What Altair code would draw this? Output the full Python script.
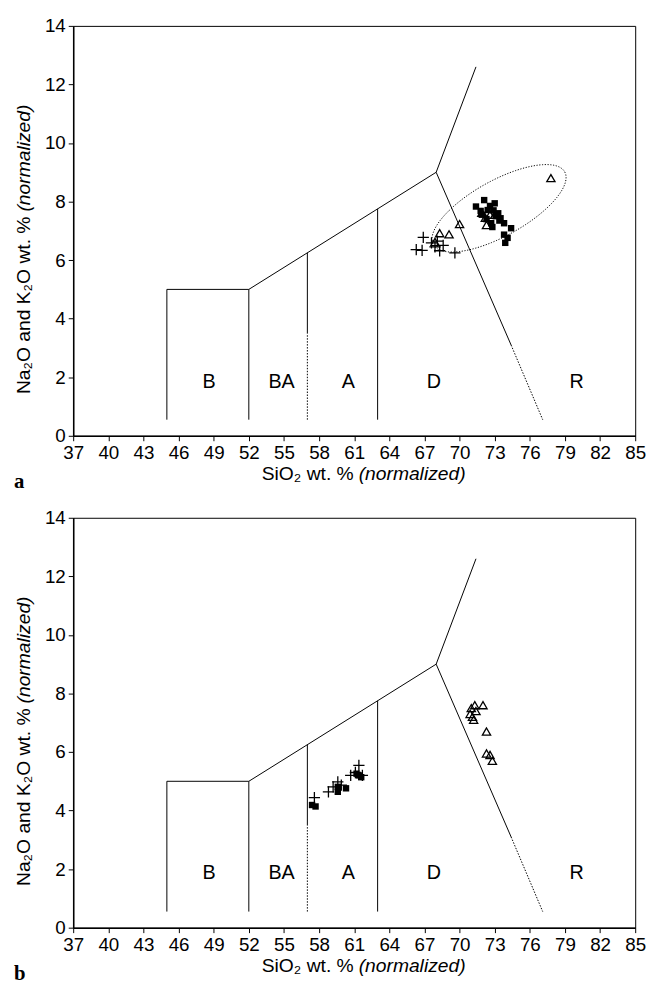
import altair as alt
import pandas as pd
import numpy as np

# ---------------- data ----------------
x_ticks = [37, 40, 43, 46, 49, 52, 55, 58, 61, 64, 67, 70, 73, 76, 79, 82, 85]
y_ticks = [0, 2, 4, 6, 8, 10, 12, 14]

# field boundary polylines (TAS): id, order, x, y
solid_id = [1, 1, 1, 1, 2, 2, 2, 3, 3, 4, 4, 5, 5]
solid_x = [45, 45, 52, 52, 52, 68, 71.4, 57, 57, 63, 63, 68, 74.4]
solid_y = [0.55, 5, 5, 0.55, 5, 9, 12.6, 3.5, 6.25, 0.55, 7.75, 9, 3.1]
dot_id = [1, 1, 2, 2]
dot_x = [57, 57, 74.4, 77.1]
dot_y = [0.55, 3.5, 3.1, 0.55]

field_names = ["B", "BA", "A", "D", "R"]
field_x = [48.6, 54.8, 60.5, 67.8, 80.0]
field_y = [1.85, 1.85, 1.85, 1.85, 1.85]

# panel a
a_plus_x = [66.9, 66.3, 66.8, 67.6, 68.1, 68.3, 69.6, 68.6, 67.9]
a_plus_y = [6.78, 6.36, 6.33, 6.59, 6.65, 6.32, 6.25, 6.50, 6.45]
a_tri_x = [77.8, 70.0, 68.3, 69.1, 67.9, 71.9, 72.6, 72.3, 73.0, 72.2]
a_tri_y = [8.80, 7.23, 6.92, 6.88, 6.62, 7.62, 7.55, 7.20, 7.55, 7.45]
a_sq_x = [71.4, 72.1, 73.0, 72.4, 73.3, 73.5, 73.8, 72.7, 72.8, 74.4, 73.8, 74.1,
          73.9, 71.9, 73.4, 72.6, 72.9, 72.3, 71.8, 73.1]
a_sq_y = [7.83, 8.05, 7.94, 7.71, 7.60, 7.43, 7.26, 7.26, 7.13, 7.09, 6.87, 6.76,
          6.59, 7.55, 7.35, 7.85, 7.70, 7.40, 7.68, 7.50]

# dotted ellipse in panel a: centre and two conjugate semi-axis vectors
ell_cx, ell_cy = 73.37, 7.77
ell_ux, ell_uy = 5.61, 1.243
ell_vx, ell_vy = 1.148, -0.828

# panel b
b_plus_x = [57.6, 58.8, 59.2, 59.6, 59.9, 60.7, 61.4, 61.7, 61.1]
b_plus_y = [4.44, 4.64, 4.81, 4.98, 4.87, 5.20, 5.54, 5.20, 5.30]
b_tri_x = [70.9, 71.0, 71.3, 71.1, 71.4, 71.2, 72.0, 72.3, 72.3, 72.6, 72.8]
b_tri_y = [7.30, 7.50, 7.60, 7.20, 7.40, 7.10, 7.60, 6.70, 5.95, 5.90, 5.70]
b_sq_x = [57.4, 57.7, 59.6, 60.3, 59.6, 61.2, 61.4, 61.6]
b_sq_y = [4.19, 4.14, 4.64, 4.76, 4.81, 5.26, 5.20, 5.14]

# ---------------- chart ----------------
W, H = 569, 415
FONT = "Liberation Sans"
TFS = 19.5

xs = alt.Scale(domain=[37, 85], nice=False, zero=False)
ys = alt.Scale(domain=[0, 14], nice=False, zero=False)
xax = alt.Axis(values=x_ticks, title=None, grid=False, labelFlush=False)
yax = alt.Axis(values=y_ticks, title=None, grid=False)


def X():
    return alt.X("x:Q", scale=xs, axis=xax)


def Y():
    return alt.Y("y:Q", scale=ys, axis=yax)


one = pd.DataFrame({"k": [0]})


def panel(px, py, tx, ty, sx, sy, letter, ellipse):
    solid = pd.DataFrame({"id": solid_id, "x": solid_x, "y": solid_y,
                          "o": list(range(len(solid_x)))})
    dot = pd.DataFrame({"id": dot_id, "x": dot_x, "y": dot_y,
                        "o": list(range(len(dot_x)))})
    layers = []
    layers.append(alt.Chart(solid).mark_line(color="black", strokeWidth=1).encode(
        x=X(), y=Y(), detail="id:N", order="o:Q"))
    layers.append(alt.Chart(dot).mark_line(color="black", strokeWidth=1,
                                            strokeDash=[1.5, 1.5]).encode(
        x=X(), y=Y(), detail="id:N", order="o:Q"))
    lab = pd.DataFrame({"x": field_x, "y": field_y, "t": field_names})
    layers.append(alt.Chart(lab).mark_text(font=FONT, fontSize=20, color="black").encode(
        x=X(), y=Y(), text="t:N"))
    if ellipse:
        t = np.linspace(0, 2 * np.pi, 181)
        ell = pd.DataFrame({
            "x": ell_cx + ell_ux * np.cos(t) + ell_vx * np.sin(t),
            "y": ell_cy + ell_uy * np.cos(t) + ell_vy * np.sin(t),
            "t": t})
        layers.append(alt.Chart(ell).mark_line(color="black", strokeWidth=1,
                                                strokeDash=[1.2, 1.6]).encode(
            x=X(), y=Y(), order="t:Q"))
    sq = pd.DataFrame({"x": sx, "y": sy})
    layers.append(alt.Chart(sq).mark_point(shape="square", filled=True, color="black",
                                            size=42, opacity=1).encode(x=X(), y=Y()))
    tri = pd.DataFrame({"x": tx, "y": ty})
    layers.append(alt.Chart(tri).mark_point(shape="triangle-up", filled=False,
                                             color="black", size=70, strokeWidth=1.3,
                                             opacity=1).encode(x=X(), y=Y()))
    pl = pd.DataFrame({"x": px, "y": py})
    layers.append(alt.Chart(pl).mark_point(shape="M-1,0H1M0,-1V1", filled=False,
                                            color="black", size=130, strokeWidth=1.3,
                                            opacity=1).encode(x=X(), y=Y()))
    # axis titles (normal + italic parts)
    layers.append(alt.Chart(one).mark_text(font=FONT, fontSize=TFS, color="black",
                                            angle=270, align="right", baseline="middle").encode(
        x=alt.value(-50), y=alt.value(193), text=alt.value("Na\u2082O and K\u2082O wt. %")))
    layers.append(alt.Chart(one).mark_text(font=FONT, fontSize=TFS, color="black",
                                            fontStyle="italic", angle=270, align="left",
                                            baseline="middle").encode(
        x=alt.value(-50), y=alt.value(188), text=alt.value("(normalized)")))
    layers.append(alt.Chart(one).mark_text(font=FONT, fontSize=TFS, color="black",
                                            align="right", baseline="middle").encode(
        x=alt.value(284), y=alt.value(454), text=alt.value("SiO\u2082 wt. %")))
    layers.append(alt.Chart(one).mark_text(font=FONT, fontSize=TFS, color="black",
                                            fontStyle="italic", align="left",
                                            baseline="middle").encode(
        x=alt.value(289), y=alt.value(454), text=alt.value("(normalized)")))
    layers.append(alt.Chart(one).mark_text(font="Liberation Serif", fontSize=21,
                                            fontWeight="bold", color="black",
                                            align="left", baseline="middle").encode(
        x=alt.value(-60), y=alt.value(462), text=alt.value(letter)))
    return alt.layer(*layers).properties(width=W, height=H)


pa = panel(a_plus_x, a_plus_y, a_tri_x, a_tri_y, a_sq_x, a_sq_y, "a", True)
pb = panel(b_plus_x, b_plus_y, b_tri_x, b_tri_y, b_sq_x, b_sq_y, "b", False)

chart = alt.vconcat(pa, pb, spacing=15).properties(
    background="white", padding={"left": 5, "top": 2, "right": 5, "bottom": 0}
).configure_axis(
    labelFont=FONT, labelFontSize=19, labelColor="black", domainColor="black",
    tickColor="black", domainWidth=1.5, tickWidth=1, tickSize=5, labelPadding=3
).configure_view(stroke="black", strokeWidth=1)

chart.save("out.html", embed_options={"renderer": "svg", "actions": False})
